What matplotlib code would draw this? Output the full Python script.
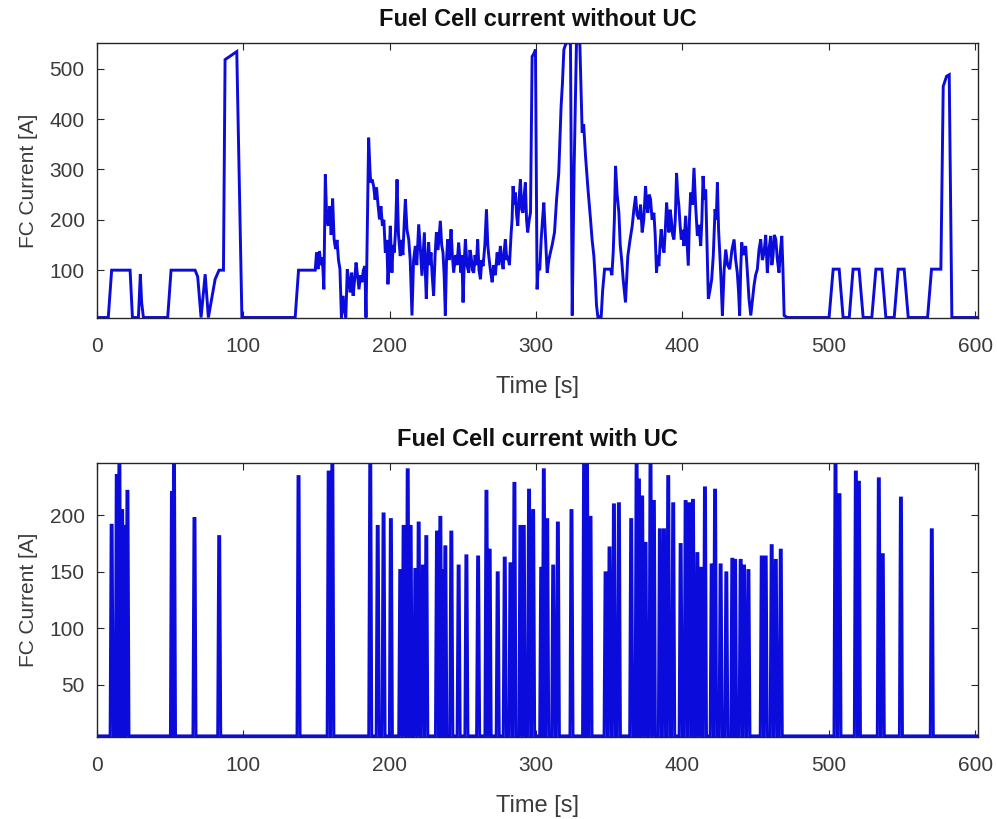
import numpy as np
import matplotlib
matplotlib.use("Agg")
import matplotlib.pyplot as plt

plt.rcParams['font.family'] = ['Liberation Sans', 'DejaVu Sans']

# Fuel cell current without ultracapacitor, (time [s], current [A]) by drive-cycle segment
seg_start = [(0, 6), (7.7, 6), (10, 100), (22.6, 100), (24.2, 6), (28.3, 6), (29.6, 92), (30.5, 36),
             (31.7, 6), (48.3, 6), (50.6, 100), (67, 100), (68.8, 87), (71.1, 6), (73.9, 92),
             (76.1, 6), (80.7, 82), (83.4, 100), (86.4, 100), (87.5, 518), (95.5, 534), (99, 6),
             (135.4, 6), (137.7, 100), (149.1, 100)]
seg_urban1 = [(150, 135), (151, 102), (152, 138), (153, 110), (154, 125), (155, 62), (156, 290),
              (157, 200), (158, 188), (159, 227), (160, 170), (161, 242), (162, 161), (163, 142),
              (164, 160), (165, 120), (166, 102), (167, 6), (168, 49), (169, 20), (170, 6),
              (171, 102), (172, 80), (173, 56), (174, 95), (175, 49), (176, 80), (177, 115),
              (178, 90), (179, 62), (180, 90), (181, 76), (182, 100), (183, 108), (183.8, 6),
              (185.6, 363), (186.5, 300), (187, 274), (188, 280), (189, 267), (190, 240), (191, 264),
              (192, 230), (193, 201), (194, 227), (195, 188), (196, 200), (197, 135), (198, 160),
              (198.8, 72), (199.5, 120), (200.4, 188)]
seg_urban2 = [(201.5, 95), (202.3, 150), (203.1, 135), (204, 180), (205, 280), (206, 170),
              (207.2, 128), (208, 160), (209, 130), (210, 200), (210.7, 241), (211.8, 180),
              (213, 161), (214, 120), (215.2, 10), (216.3, 120), (217.5, 148), (218.5, 110),
              (219.8, 191), (221, 140), (222, 89), (223, 140), (223.7, 175), (224.3, 100), (225, 43),
              (225.8, 120), (226.6, 155), (227.4, 110), (228.2, 135), (229, 90), (230, 49),
              (231, 130), (231.9, 175), (233, 140), (234.6, 198), (235.5, 150), (236.4, 135),
              (237.2, 90), (238, 10), (238.8, 120), (239.6, 161), (240.7, 120), (241.9, 181),
              (242.8, 130), (243.7, 95), (245, 130), (246, 110), (247.1, 155), (248, 120),
              (248.7, 95), (249.3, 130), (250.1, 36), (251, 120), (251.7, 161), (252.8, 110),
              (254, 95), (254.8, 140), (255.6, 128), (256.5, 100), (257.4, 95), (258.3, 130),
              (259.2, 110), (260.1, 161), (261, 100), (262, 82), (262.9, 120), (263.8, 108),
              (265, 150), (266.1, 221), (267, 150), (267.7, 128), (268.8, 100), (270, 76),
              (271, 110), (272.2, 90), (273.4, 135), (274.5, 110), (275.6, 148), (276.5, 120),
              (277.5, 102), (278.3, 140), (279, 161), (280, 120), (280.7, 128), (281.8, 110),
              (283, 175), (283.6, 200), (284.3, 267), (285, 230), (285.9, 254), (286.7, 210),
              (287.5, 188), (288.4, 240), (289.3, 280), (290.2, 220), (291.1, 214), (291.9, 250),
              (292.7, 274), (293.5, 200), (294.3, 175), (295.3, 200), (296.2, 214)]
seg_highway = [(297.3, 524), (298.5, 530), (299.6, 538), (300.7, 62), (301.5, 110), (302.5, 100),
               (303.5, 161), (304.4, 200), (305.3, 234), (306.5, 160), (307.6, 95), (308.7, 120),
               (309.8, 135), (311, 150), (312.6, 175), (314, 240), (315.5, 293), (317.1, 425),
               (318, 470), (319, 538), (320.5, 551), (322, 551), (323.5, 551), (324.7, 10),
               (326, 300), (327.6, 551), (329.9, 551), (331.5, 373), (332.5, 390), (333.8, 326),
               (335.5, 260), (337.2, 201), (338.3, 160), (339.5, 128), (340.5, 80), (341.3, 30),
               (342.2, 8), (344.5, 8), (345.5, 60), (346.8, 102), (350.9, 102)]
seg_urban3 = [(351.8, 90), (352.7, 135), (353.5, 200), (354.3, 307), (355.4, 250), (356.6, 214),
              (357.5, 150), (358.5, 120), (359.5, 82), (360.3, 60), (361.1, 36), (361.9, 80),
              (362.7, 128), (364.2, 160), (365.7, 188), (366.8, 220), (368, 247), (369, 210),
              (370.3, 201), (371.4, 230), (372.5, 175), (373.6, 200), (374.8, 267), (375.6, 230),
              (376.4, 214), (377.3, 250), (378.2, 241), (379.3, 200), (380.5, 214), (381.4, 170),
              (382.3, 95), (383.1, 130), (383.9, 108), (384.7, 150), (385.5, 181), (386.4, 150),
              (387.4, 135), (388.3, 180), (389.2, 234), (390, 200), (390.8, 175), (391.6, 220),
              (392.4, 201), (393.3, 170), (394.2, 161), (395.1, 200), (396, 293), (396.8, 250),
              (397.6, 227), (398.4, 190), (399.2, 161), (400.1, 180), (401, 148), (402.2, 208),
              (403.1, 160), (404, 109), (404.8, 200), (405.6, 254), (406.8, 230), (407.9, 303),
              (409, 230), (410.2, 168), (411.3, 190), (412.5, 148), (413.3, 200), (414.1, 287),
              (415, 240), (415.9, 260), (416.8, 150), (417.7, 43), (418.8, 60), (420, 82),
              (421.1, 130), (422.3, 221), (423.1, 200), (423.9, 274), (424.7, 180), (425.5, 135),
              (426.4, 80), (427.3, 10), (428.5, 100), (429.6, 141), (430.9, 110), (432.3, 102),
              (433.8, 140), (435.3, 161), (436.4, 120), (437.5, 95), (438.3, 60), (439.1, 10),
              (439.8, 100), (440.5, 155), (441.8, 130), (443.2, 148), (444.3, 100), (445.5, 43),
              (446.7, 10), (447.8, 40), (448.9, 69), (450, 90), (451.2, 102), (452.3, 140),
              (453.5, 161), (454.6, 120), (455.8, 135), (456.9, 170), (458, 95), (459.1, 140),
              (460.3, 168), (461.1, 110), (461.9, 128), (462.8, 170), (463.8, 161), (464.9, 120),
              (466, 95), (467, 140), (467.9, 168), (468.7, 100), (469.5, 10), (471.7, 6)]
seg_end = [(500.2, 6), (503, 102), (507.1, 102), (509.8, 6), (514, 6), (516.6, 102), (520.7, 102),
           (523.5, 6), (529.4, 6), (532.2, 102), (536.3, 102), (539, 6), (544.7, 6), (547.4, 102),
           (551.5, 102), (554.3, 6), (567.5, 6), (570.2, 102), (576.6, 102), (578.2, 465),
           (580.5, 485), (582.3, 488), (584.1, 6), (602, 6)]

no_uc = seg_start + seg_urban1 + seg_urban2 + seg_highway + seg_urban3 + seg_end
t_no_uc = [p[0] for p in no_uc]
i_no_uc = [p[1] for p in no_uc]

# Fuel cell current with ultracapacitor: short current pulses (peak time [s], peak current [A])
pulse_t = [10, 13.5, 15.3, 17.2, 18.6, 20.8, 51.2, 52.6, 66.6, 83.5, 137.7, 158.3, 160.8, 186.7,
           191.8, 195.8, 200.8, 207.2, 209.5, 212.3, 214.3, 217.5, 219.8, 222.7, 225, 232.3, 234.6,
           236.4, 238, 242.1, 247.1, 252.4, 260.4, 266.1, 268.3, 273.8, 278.6, 282.5, 285.2, 289.3,
           291.6, 295.2, 298, 303.5, 305.3, 307.6, 311.7, 314.9, 324.2, 332.8, 334.8, 337.2, 347.5,
           350.2, 353.2, 356.6, 365, 368.7, 370.3, 372.5, 374.8, 378.2, 380.5, 384.6, 387.4, 390.3,
           393.7, 398.8, 402.2, 404.9, 407.2, 410.2, 412.5, 415.4, 420, 422.3, 426.1, 430, 434.1,
           436, 439.8, 442.1, 445.1, 454.2, 456.9, 461, 463.8, 467.2, 504.6, 507.3, 518.5, 520.6,
           534.2, 536.9, 549.3, 570.4]
pulse_i = [191, 235, 246, 204, 190, 221, 220, 246, 197, 181, 234, 238, 246, 246,
           190, 201, 196, 151, 190, 240, 190, 152, 193, 155, 181, 185, 198,
           151, 172, 185, 155, 164, 163, 221, 169, 149, 162, 157, 228, 190,
           190, 222, 204, 153, 240, 196, 155, 193, 204, 246, 246, 198, 149,
           171, 209, 210, 196, 246, 231, 216, 175, 246, 212, 187, 187, 234,
           210, 174, 212, 210, 213, 166, 153, 224, 156, 222, 156, 149, 161,
           160, 160, 155, 151, 163, 163, 173, 160, 169, 246, 218, 238, 229,
           232, 165, 215, 187]
idle_current = 5.0
t_end = 602

# Build the pulse train: each pulse rises from the idle level, holds briefly and falls back
pw_rise, pw_hold = 0.7, 0.35
tw, iw = [0.0], [idle_current]
for tp, ip in zip(pulse_t, pulse_i):
    tw += [tp - pw_rise - pw_hold, tp - pw_hold, tp + pw_hold, tp + pw_hold + pw_rise]
    iw += [idle_current, ip, ip, idle_current]
tw.append(t_end)
iw.append(idle_current)

line_color = '#0b0bdc'
spine_color = '#262626'
tick_color = '#3a3a3a'

fig = plt.figure(figsize=(9.97, 8.19), dpi=100)
ax1 = fig.add_axes([0.0973, 0.6117, 0.8837, 0.3358])
ax2 = fig.add_axes([0.0973, 0.1001, 0.8837, 0.3346])

panels = [
    (ax1, t_no_uc, i_no_uc, 'Fuel Cell current without UC', (5, 551), [100, 200, 300, 400, 500]),
    (ax2, tw, iw, 'Fuel Cell current with UC', (4, 246), [50, 100, 150, 200]),
]
for ax, x, y, title, ylim, yticks in panels:
    ax.plot(x, y, color=line_color, lw=2.1, solid_joinstyle='miter')
    ax.set_xlim(0, 602)
    ax.set_ylim(*ylim)
    ax.set_xticks([0, 100, 200, 300, 400, 500, 600])
    ax.set_yticks(yticks)
    ax.tick_params(direction='in', length=5, width=0.8, top=True, right=True,
                   labelsize=15, labelcolor=tick_color, color=spine_color)
    ax.tick_params(axis='x', pad=14)
    ax.tick_params(axis='y', pad=9)
    for s in ax.spines.values():
        s.set_color(spine_color)
        s.set_linewidth(1.0)
    ax.set_title(title, fontsize=17, fontweight='bold', color='#111111', pad=12)
    ax.set_xlabel('Time [s]', fontsize=17, color=tick_color, labelpad=14)
    ax.set_ylabel('FC Current [A]', fontsize=15, color=tick_color, labelpad=8)

fig.savefig('out.png', dpi=100)
